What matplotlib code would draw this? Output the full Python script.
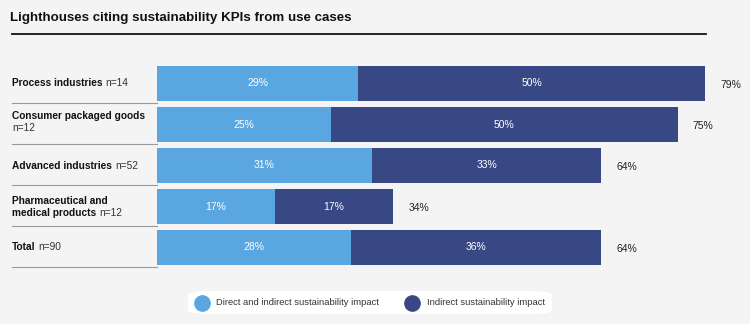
import numpy as np
import matplotlib
matplotlib.use("Agg")
import matplotlib.pyplot as plt
from matplotlib.patches import FancyBboxPatch
from matplotlib.lines import Line2D

# data
sectors = ["Process industries", "Consumer packaged goods", "Advanced industries",
           "Pharmaceutical and\nmedical products", "Total"]
sample_n = ["n=14", "n=12", "n=52", "n=12", "n=90"]
direct = [29, 25, 31, 17, 28]
indirect = [50, 50, 33, 17, 36]
totals = [79, 75, 64, 34, 64]
series_names = ["Direct and indirect sustainability impact", "Indirect sustainability impact"]

light = "#5aa6e1"
dark = "#384885"
bg = "#f4f4f4"

plt.rcParams['font.family'] = ['Liberation Sans', 'DejaVu Sans']

W, H = 750, 324
fig = plt.figure(figsize=(W / 100, H / 100), dpi=100, facecolor=bg)

def fx(px):
    return px / W

def fy(py):
    return 1 - py / H

# title + rule
fig.text(fx(10), fy(18.5), "Lighthouses citing sustainability KPIs from use cases",
         fontsize=9.6, fontweight="bold", va="center", ha="left", color="#111111")
fig.add_artist(Line2D([fx(12), fx(706)], [fy(34), fy(34)], color="#111111", lw=1.3,
                      transform=fig.transFigure))

# bars
row_h = 41
top = 63
ax = fig.add_axes([fx(157), fy(top + row_h * len(sectors)), fx(W - 157), row_h * len(sectors) / H])
ax.set_facecolor(bg)
px_per_pct = 6.94
ax.set_xlim(0, (W - 157) / px_per_pct)
ax.set_ylim(len(sectors) - 0.5, -0.5)
ax.axis("off")

y = np.arange(len(sectors))
d = np.array(direct)
i_ = np.array(indirect)
ax.barh(y, d, height=0.85, color=light, edgecolor="none")
ax.barh(y, i_, left=d, height=0.85, color=dark, edgecolor="none")
for k in range(len(sectors)):
    ax.text(d[k] / 2, y[k], f"{direct[k]}%", color="white", fontsize=7.5, ha="center", va="center")
    ax.text(d[k] + i_[k] / 2, y[k], f"{indirect[k]}%", color="white", fontsize=7.5, ha="center", va="center")
    ax.text(totals[k] + 2.2, y[k] + 0.03, f"{totals[k]}%", color="#222222", fontsize=7.5, ha="left", va="center")

# category labels and separators
fig.canvas.draw()
rend = fig.canvas.get_renderer()
for k, name in enumerate(sectors):
    cy = top + row_h * k + row_h / 2
    lines = name.split("\n")
    if name == "Consumer packaged goods":
        lines = [name, ""]
        cy -= 2.5
    n_lines = len(lines)
    for j, ln in enumerate(lines):
        ly = cy + (j - (n_lines - 1) / 2) * 12
        t = fig.text(fx(12), fy(ly), ln, fontsize=7.3, fontweight="bold", va="center", ha="left", color="#111111")
        if j == n_lines - 1:
            if ln:
                bb = t.get_window_extent(rend)
                nx = bb.x1 + 3
            else:
                nx = 12
            fig.text(fx(nx), fy(ly), sample_n[k], fontsize=7.3, va="center", ha="left", color="#333333")
    sep_y = top + row_h * (k + 1) - 1
    fig.add_artist(Line2D([fx(12), fx(157)], [fy(sep_y), fy(sep_y)], color="#999999", lw=0.8,
                          transform=fig.transFigure))

# legend
box = FancyBboxPatch((fx(188), fy(314)), fx(364), (314 - 291) / H,
                     boxstyle="round,pad=0,rounding_size=0.03", transform=fig.transFigure,
                     facecolor="white", edgecolor="none", mutation_aspect=H / W)
fig.add_artist(box)
for cx, tx, col, lab in [(202, 216, light, series_names[0]), (412, 427, dark, series_names[1])]:
    fig.add_artist(Line2D([fx(cx)], [fy(302.5)], marker="o", markersize=11, color=col,
                          linestyle="none", transform=fig.transFigure))
    fig.text(fx(tx), fy(302.5), lab, fontsize=6.75, va="center", ha="left", color="#333333")

fig.savefig("out.png", dpi=100, facecolor=bg)
